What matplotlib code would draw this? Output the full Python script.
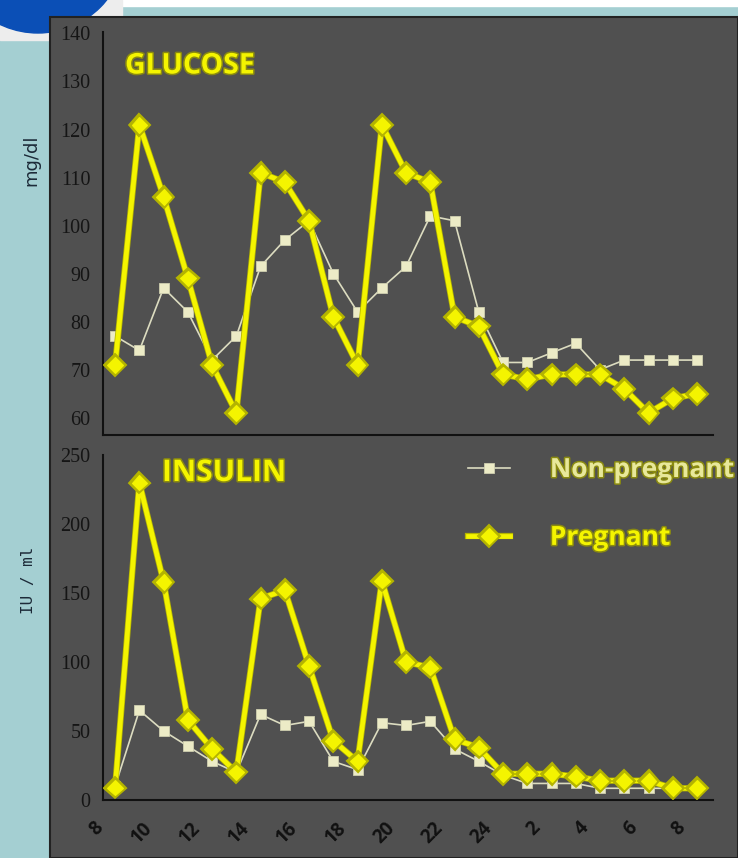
import numpy as np
import matplotlib
matplotlib.use("Agg")
import matplotlib.pyplot as plt
import matplotlib.patheffects as pe
from matplotlib.patches import Rectangle, Circle

# ore di campionamento: dalle 8 del mattino alle 8 del giorno dopo
hours = list(range(8, 33))
hour_labels = ['8', '10', '12', '14', '16', '18', '20', '22', '24', '2', '4', '6', '8']

# glicemia (mg/dl)
glucose_non_preg = [77, 74, 87, 82, 72, 77, 91.5, 97, 101, 90, 82, 87, 91.5,
                    102, 101, 82, 71.5, 71.5, 73.5, 75.5, 70, 72, 72, 72, 72]
glucose_preg = [71, 121, 106, 89, 71, 61, 111, 109, 101, 81, 71, 121, 111,
                109, 81, 79, 69, 68, 69, 69, 69, 66, 61, 64, 65]

# insulina (IU / ml)
insulin_non_preg = [10, 65, 50, 39, 28, 20, 62, 54, 57, 28, 22, 56, 54,
                    57, 37, 28, 18, 12, 12, 12, 8.5, 8.5, 8.5, 8.5, 8.5]
insulin_preg = [9, 230, 158, 58, 37, 20, 146, 152, 97, 43, 28, 159, 100,
                96, 44, 38, 19, 19, 19, 17, 14, 14, 14, 8.5, 8.5]

glucose_ticks = [60, 70, 80, 90, 100, 110, 120, 130, 140]
insulin_ticks = [0, 50, 100, 150, 200, 250]

W, H = 738, 858
fig = plt.figure(figsize=(W / 100, H / 100), dpi=100)

# sfondo stile diapositiva
bg = fig.add_axes([0, 0, 1, 1], zorder=-5)
bg.set_xlim(0, W)
bg.set_ylim(H, 0)
bg.axis('off')
bg.add_patch(Rectangle((0, 0), W, H, color='#a4cfd2'))
bg.add_patch(Rectangle((0, 0), W, 6, color='white'))
bg.add_patch(Rectangle((0, 0), 122, 40, color='#ededed'))
bg.add_patch(Circle((38, -55), 88, color='#0b4fb6'))
bg.add_patch(Rectangle((50, 17), W - 50, H - 17, facecolor='#505050',
                       edgecolor='#222222', lw=1.5))

comic = 'Open Sans'
yellow = '#f4f400'
cream = '#ecebc6'
glow = [pe.withStroke(linewidth=4.5, foreground='#b4b400')]
txt_glow = [pe.withStroke(linewidth=2.2, foreground='#8a8a10')]


def style_axes(ax, ticks, ylim):
    ax.set_facecolor('none')
    for s in ['top', 'right']:
        ax.spines[s].set_visible(False)
    for s in ['left', 'bottom']:
        ax.spines[s].set_color('#111111')
        ax.spines[s].set_linewidth(1.5)
    ax.set_xlim(7.5, 32.66)
    ax.set_ylim(*ylim)
    ax.set_yticks(ticks)
    ax.set_yticklabels([str(t) for t in ticks], fontfamily='Liberation Serif',
                       fontsize=14.5, color='#151515')
    ax.tick_params(axis='y', length=0, pad=9)


def draw_series(ax, non_preg, preg):
    ax.plot(hours, non_preg, color='#dcdcc0', lw=1.2, marker='s', ms=6.5,
            mfc=cream, mec='#cfcfb0', mew=0.6, zorder=3, label='Non-pregnant')
    ax.plot(hours, preg, color=yellow, lw=3.4, marker='D', ms=8,
            mfc=yellow, mec=yellow, mew=0.8, zorder=4, label='Pregnant',
            path_effects=glow)


ax1 = fig.add_axes([103 / W, 1 - 435 / H, 610 / W, 403 / H])
style_axes(ax1, glucose_ticks, (56.4, 140.3))
draw_series(ax1, glucose_non_preg, glucose_preg)
ax1.set_xticks([])

ax2 = fig.add_axes([103 / W, 1 - 800 / H, 610 / W, 345 / H])
style_axes(ax2, insulin_ticks, (0, 250))
draw_series(ax2, insulin_non_preg, insulin_preg)
ax2.set_xticks(np.array(hours[::2]) - 0.3)
ax2.set_xticklabels(hour_labels, rotation=45, ha='right', fontfamily=comic,
                    fontweight='bold', fontsize=13.5, color='#111111')
ax2.tick_params(axis='x', length=0, pad=13)

fig.text(125 / W, 1 - 66 / H, 'GLUCOSE', fontfamily=comic, fontweight='bold',
         fontsize=20.5, color=yellow, va='center', ha='left', path_effects=txt_glow)
fig.text(162 / W, 1 - 473 / H, 'INSULIN', fontfamily=comic, fontweight='bold',
         fontsize=21.5, color=yellow, va='center', ha='left', path_effects=txt_glow)

fig.text(31 / W, 1 - 160 / H, 'mg/dl', rotation=90, fontfamily='DejaVu Sans',
         fontsize=13, color='#1c2a38', ha='center', va='center')
fig.text(28 / W, 1 - 580 / H, 'IU / ml', rotation=90, fontfamily='DejaVu Sans Mono',
         fontsize=11.5, color='#1c2a38', ha='center', va='center')

leg = ax2.legend(loc='upper left', bbox_to_anchor=(468 / W, 1 - 456 / H),
                 bbox_transform=fig.transFigure, frameon=False,
                 prop={'family': comic, 'weight': 'bold', 'size': 19},
                 handlelength=1.6, handletextpad=1.5, labelspacing=1.55,
                 borderpad=0, borderaxespad=0)
for t, c in zip(leg.get_texts(), ['#e8e89a', yellow]):
    t.set_color(c)
    t.set_path_effects(txt_glow)

fig.savefig('out.png', dpi=100)
